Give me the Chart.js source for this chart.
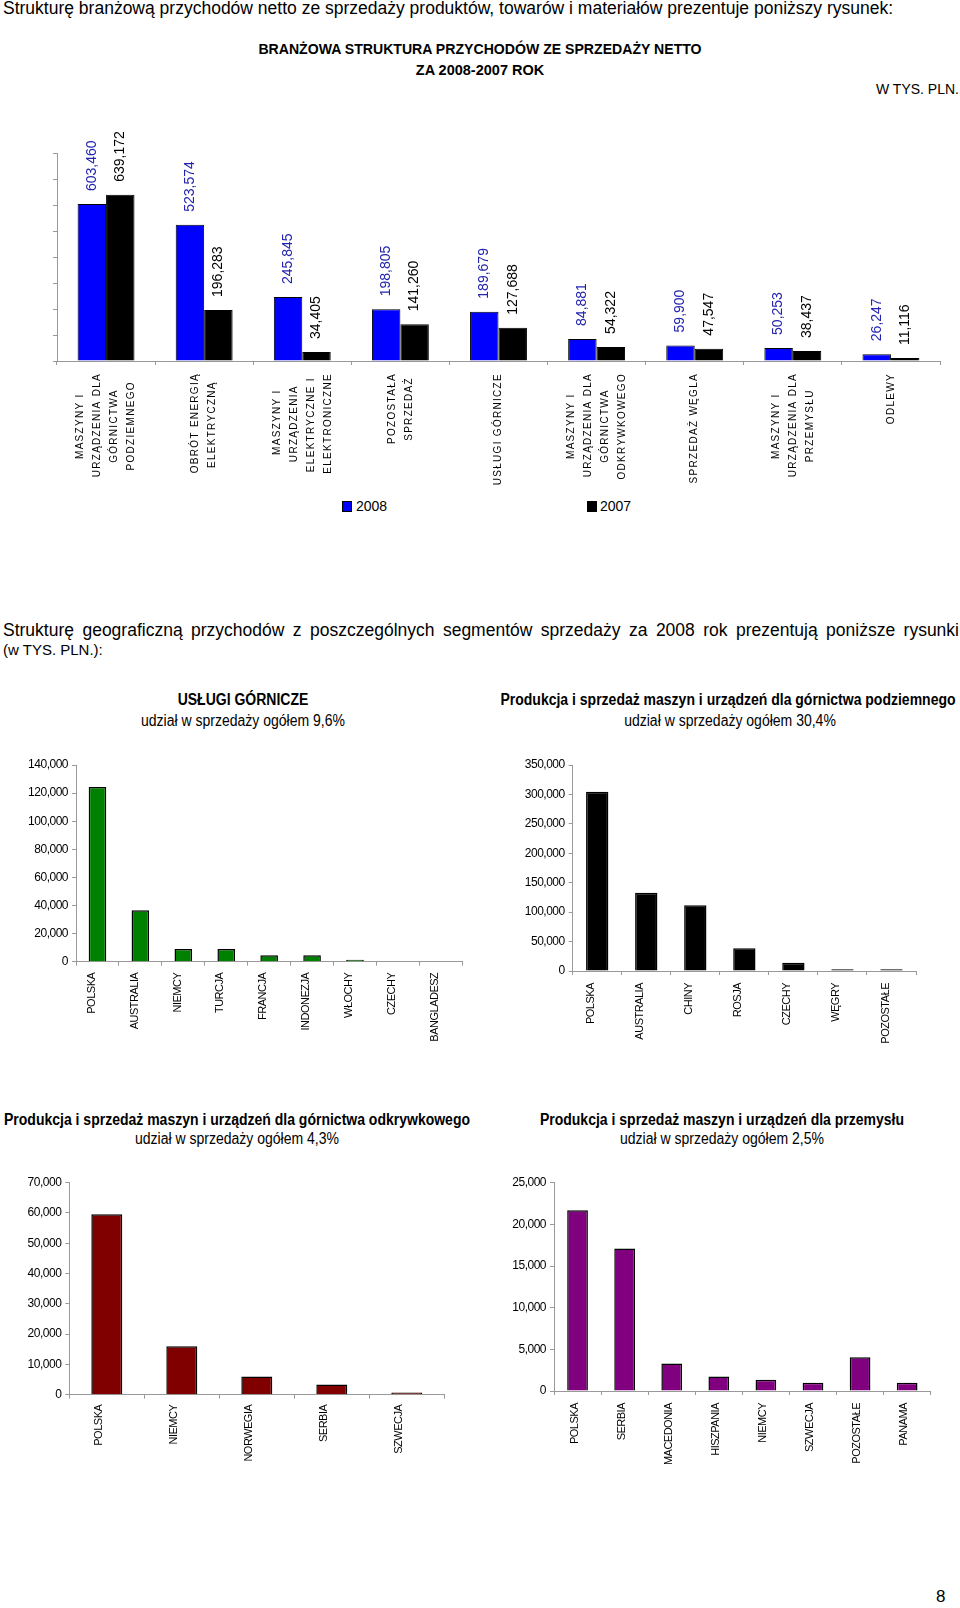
<!DOCTYPE html>
<html lang="pl">
<head>
<meta charset="utf-8">
<title>Struktura przychodów</title>
<script src="https://cdn.jsdelivr.net/npm/chart.js@4.4.1/dist/chart.umd.min.js"></script>
<style>
  html, body { margin: 0; padding: 0; background: #fff; }
  body { position: relative; width: 960px; height: 1608px; overflow: hidden;
         font-family: 'Liberation Sans', Arial, sans-serif; color: #000; }
  .t { position: absolute; white-space: nowrap; line-height: 20px; }
  /* no Arial Narrow here, so squeeze the regular face */
  .narrow { width: 800px; text-align: center; font-size: 16px; transform: scaleX(0.875); transform-origin: 50% 50%; }
  .c { position: absolute; }
  .sq { position: absolute; width: 8px; height: 9px; border: 1px solid #000; }
</style>
</head>
<body>

<div class="t" style="left:3px; top:-2px; font-size:17.5px;">Strukturę branżową przychodów netto ze sprzedaży produktów, towarów i materiałów prezentuje poniższy rysunek:</div>
<div class="t" style="left:0; width:960px; top:39px; text-align:center; font-weight:bold; font-size:14.1px;">BRANŻOWA STRUKTURA PRZYCHODÓW ZE SPRZEDAŻY NETTO</div>
<div class="t" style="left:0; width:960px; top:60px; text-align:center; font-weight:bold; font-size:14.5px;">ZA 2008-2007 ROK</div>
<div class="t" style="right:1px; top:79px; font-size:14px;">W TYS. PLN.</div>

<div class="c" style="left:0; top:100px;"><canvas id="sectors" width="960" height="390"></canvas></div>

<div class="sq" style="left:342px; top:501px; background:#0000ff;"></div>
<div class="t" style="left:356px; top:496px; font-size:14px;">2008</div>
<div class="sq" style="left:587px; top:501px; background:#000;"></div>
<div class="t" style="left:600px; top:496px; font-size:14px;">2007</div>

<div class="t" style="left:3px; width:956px; top:620px; font-size:17.5px; white-space:normal; text-align:justify; text-align-last:justify;">Strukturę geograficzną przychodów z poszczególnych segmentów sprzedaży za 2008 rok prezentują poniższe rysunki</div>
<div class="t" style="left:3px; top:640px; font-size:15px;">(w TYS. PLN.):</div>

<div class="t narrow" style="left:-157px; top:690px; font-weight:bold;">USŁUGI GÓRNICZE</div>
<div class="t narrow" style="left:-157px; top:711px;">udział w sprzedaży ogółem 9,6%</div>
<div class="t narrow" style="left:328px; top:690px; font-weight:bold;">Produkcja i sprzedaż maszyn i urządzeń dla górnictwa podziemnego</div>
<div class="t narrow" style="left:330px; top:711px;">udział w sprzedaży ogółem 30,4%</div>

<div class="c" style="left:0; top:740px;"><canvas id="uslugi" width="480" height="310"></canvas></div>
<div class="c" style="left:480px; top:740px;"><canvas id="podziemne" width="480" height="310"></canvas></div>

<div class="t narrow" style="left:-163px; top:1110px; font-weight:bold;">Produkcja i sprzedaż maszyn i urządzeń dla górnictwa odkrywkowego</div>
<div class="t narrow" style="left:-163px; top:1129px;">udział w sprzedaży ogółem 4,3%</div>
<div class="t narrow" style="left:322px; top:1110px; font-weight:bold;">Produkcja i sprzedaż maszyn i urządzeń dla przemysłu</div>
<div class="t narrow" style="left:322px; top:1129px;">udział w sprzedaży ogółem 2,5%</div>

<div class="c" style="left:0; top:1160px;"><canvas id="odkrywkowe" width="480" height="320"></canvas></div>
<div class="c" style="left:480px; top:1160px;"><canvas id="przemysl" width="480" height="320"></canvas></div>

<div class="t" style="left:936px; top:1587px; font-size:17px;">8</div>

<script>
// ---- data (tys. PLN) ----
const sectorLabels = [
    ['MASZYNY I', 'URZĄDZENIA DLA', 'GÓRNICTWA', 'PODZIEMNEGO'],
    ['OBRÓT ENERGIĄ', 'ELEKTRYCZNĄ'],
    ['MASZYNY I', 'URZĄDZENIA', 'ELEKTRYCZNE I', 'ELEKTRONICZNE'],
    ['POZOSTAŁA', 'SPRZEDAŻ'],
    ['USŁUGI GÓRNICZE'],
    ['MASZYNY I', 'URZĄDZENIA DLA', 'GÓRNICTWA', 'ODKRYWKOWEGO'],
    ['SPRZEDAŻ WĘGLA'],
    ['MASZYNY I', 'URZĄDZENIA DLA', 'PRZEMYSŁU'],
    ['ODLEWY']
];
const sales2008 = [603460, 523574, 245845, 198805, 189679, 84881, 59900, 50253, 26247];
const sales2007 = [639172, 196283, 34405, 141260, 127688, 54322, 47547, 38437, 11116];

const uslugiCountries = ['POLSKA', 'AUSTRALIA', 'NIEMCY', 'TURCJA', 'FRANCJA', 'INDONEZJA', 'WŁOCHY', 'CZECHY', 'BANGLADESZ'];
const uslugiValues = [124400, 36600, 9000, 9000, 4600, 4600, 1400, 0, 0];

const podziemneCountries = ['POLSKA', 'AUSTRALIA', 'CHINY', 'ROSJA', 'CZECHY', 'WĘGRY', 'POZOSTAŁE'];
const podziemneValues = [304600, 133000, 111600, 38600, 14200, 2900, 2900];

const odkrywkoweCountries = ['POLSKA', 'NIEMCY', 'NORWEGIA', 'SERBIA', 'SZWECJA'];
const odkrywkoweValues = [59600, 16000, 6000, 3400, 700];

const przemyslCountries = ['POLSKA', 'SERBIA', 'MACEDONIA', 'HISZPANIA', 'NIEMCY', 'SZWECJA', 'POZOSTAŁE', 'PANAMA'];
const przemyslValues = [21700, 17100, 3300, 1750, 1350, 1000, 4050, 1000];

const REG = "'Liberation Sans', Arial, sans-serif";
Chart.defaults.font.family = REG;
Chart.defaults.color = '#000';

const fmt = v => v.toLocaleString('en-US');
const AXIS = '#999';
const SECTOR_SPACING = '1.3px';

// measure with the same font + spacing the x labels are drawn with
const measureCtx = document.createElement('canvas').getContext('2d');
measureCtx.font = `10px ${REG}`;
measureCtx.letterSpacing = SECTOR_SPACING;
const NBSP = '\u00A0';
const nbspWidth = measureCtx.measureText(NBSP).width;

// Excel centres the lines inside each rotated block; Chart.js right-aligns them,
// so pad the shorter lines with trailing nbsp. Lines also go on every other slot
// of a 7-slot column so blocks of 1..4 lines stay centred on their tick.
function spreadLines(lines) {
    const widths = lines.map(l => measureCtx.measureText(l).width);
    const maxW = Math.max(...widths);
    const padded = lines.map((l, k) => l + NBSP.repeat(Math.round((maxW - widths[k]) / 2 / nbspWidth)));
    const out = [];
    for (let s = 0; s < 3 - (lines.length - 1); s++) out.push('');
    padded.forEach((l, k) => { if (k) out.push(''); out.push(l); });
    return out;
}

// letter spacing only for the tick labels (they are drawn after the bars, ticks.z = 1)
const tickSpacing = {
    id: 'tickSpacing',
    beforeDraw(chart) { chart.ctx.letterSpacing = '0px'; },
    afterDatasetsDraw(chart, args, opts) { chart.ctx.letterSpacing = opts.spacing || '0px'; },
    afterDraw(chart) { chart.ctx.letterSpacing = '0px'; }
};

// rotated value labels above the bars
const valueLabels = {
    id: 'valueLabels',
    afterDatasetsDraw(chart, args, opts) {
        const { ctx } = chart;
        chart.data.datasets.forEach((ds, di) => {
            chart.getDatasetMeta(di).data.forEach((bar, i) => {
                ctx.save();
                ctx.letterSpacing = '0px';
                ctx.translate(bar.x, bar.y - opts.gap);
                ctx.rotate(-Math.PI / 2);
                ctx.font = opts.font;
                ctx.fillStyle = opts.colors[di];
                ctx.textAlign = 'left';
                ctx.textBaseline = 'middle';
                ctx.fillText(fmt(ds.data[i]), 0, 0);
                ctx.restore();
            });
        });
    }
};

new Chart(document.getElementById('sectors'), {
    type: 'bar',
    data: {
        labels: sectorLabels,
        datasets: [
            { label: '2008', data: sales2008, backgroundColor: '#0000ff', borderColor: '#000', borderWidth: 1 },
            { label: '2007', data: sales2007, backgroundColor: '#000', borderColor: '#000', borderWidth: 1 }
        ]
    },
    options: {
        responsive: false,
        animation: false,
        categoryPercentage: 0.58,
        barPercentage: 1,
        layout: { padding: { top: 53, right: 20, left: 0, bottom: 0 } },
        plugins: {
            legend: { display: false },
            tooltip: { enabled: false },
            valueLabels: { gap: 13, font: `14px ${REG}`, colors: ['#2323b0', '#000'] },
            tickSpacing: { spacing: SECTOR_SPACING }
        },
        scales: {
            x: {
                grid: { drawOnChartArea: false, color: AXIS, tickLength: 4 },
                border: { color: AXIS },
                afterFit: s => { s.height = 129; },
                ticks: {
                    z: 1,
                    autoSkip: false,
                    minRotation: 90, maxRotation: 90,
                    padding: 8,
                    labelOffset: -25.5,
                    font: { size: 10, lineHeight: 0.85 },
                    callback: (v, i) => spreadLines(sectorLabels[i])
                }
            },
            y: {
                min: 0, max: 800000,
                grid: { drawOnChartArea: false, color: AXIS, tickLength: 4 },
                border: { color: AXIS },
                afterFit: s => { s.width = 57; },
                ticks: { display: false, stepSize: 100000 }
            }
        }
    },
    plugins: [valueLabels, tickSpacing]
});

function geoChart(id, countries, values, color, g) {
    new Chart(document.getElementById(id), {
        type: 'bar',
        data: {
            labels: countries,
            datasets: [{ data: values, backgroundColor: color, borderColor: '#000', borderWidth: 1.5 }]
        },
        options: {
            responsive: false,
            animation: false,
            categoryPercentage: 1,
            barPercentage: g.bar,
            layout: { padding: { top: g.top, right: g.right, left: 0, bottom: 0 } },
            plugins: {
                legend: { display: false },
                tooltip: { enabled: false },
                tickSpacing: { spacing: '-0.5px' }
            },
            scales: {
                x: {
                    grid: { drawOnChartArea: false, color: AXIS, tickLength: 4 },
                    border: { color: AXIS },
                    afterFit: s => { s.height = g.xh; },
                    ticks: {
                        z: 1,
                        autoSkip: false,
                        minRotation: 90, maxRotation: 90,
                        padding: g.xpad,
                        labelOffset: g.shift,
                        font: { size: 11 }
                    }
                },
                y: {
                    min: 0, max: g.max,
                    grid: { drawOnChartArea: false, color: AXIS, tickLength: 4 },
                    border: { color: AXIS },
                    afterFit: s => { s.width = g.yw; },
                    ticks: {
                        z: 1,
                        stepSize: g.step,
                        padding: 4,
                        font: { size: 12 },
                        callback: v => fmt(v)
                    }
                }
            }
        },
        plugins: [tickSpacing]
    });
}

geoChart('uslugi', uslugiCountries, uslugiValues, '#008000',
    { bar: 0.41, top: 25, right: 17.7, yw: 76, xh: 88.3, xpad: 7, shift: -5.8, max: 140000, step: 20000 });
geoChart('podziemne', podziemneCountries, podziemneValues, '#000',
    { bar: 0.455, top: 25, right: 44, yw: 92.7, xh: 79, xpad: 8, shift: -6, max: 350000, step: 50000 });
geoChart('odkrywkowe', odkrywkoweCountries, odkrywkoweValues, '#800000',
    { bar: 0.413, top: 22.7, right: 35.7, yw: 69.3, xh: 85.3, xpad: 6, shift: -8, max: 70000, step: 10000 });
geoChart('przemysl', przemyslCountries, przemyslValues, '#800080',
    { bar: 0.44, top: 22.7, right: 29.3, yw: 74, xh: 89, xpad: 8, shift: -3, max: 25000, step: 5000 });
</script>
</body>
</html>
